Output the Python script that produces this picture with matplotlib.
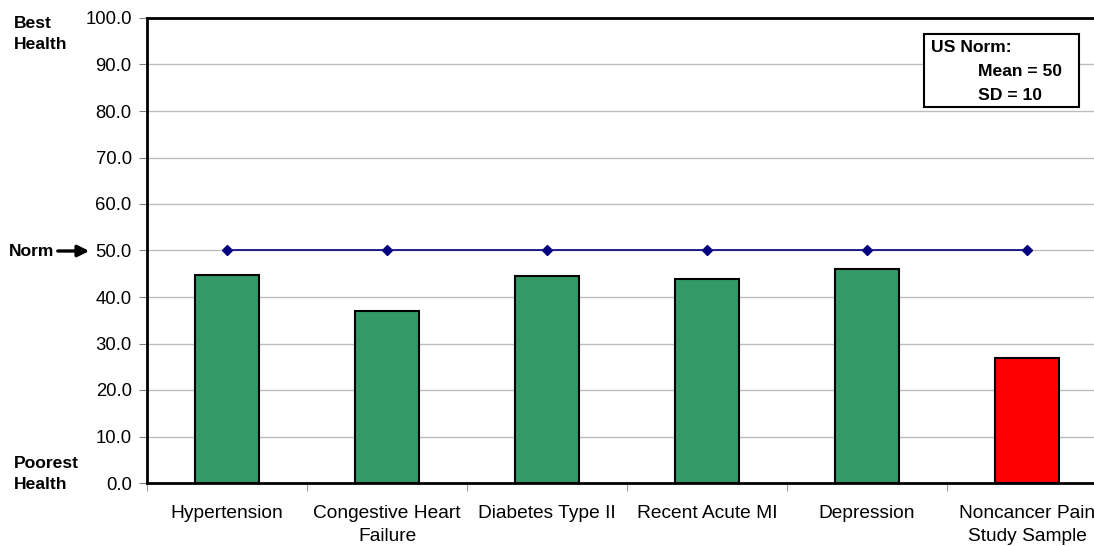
import matplotlib.pyplot as plt
import numpy as np

plt.rcParams["font.family"] = ["Liberation Sans", "DejaVu Sans"]

categories = ["Hypertension", "Congestive Heart\nFailure", "Diabetes Type II",
              "Recent Acute MI", "Depression", "Noncancer Pain\nStudy Sample"]
scores = [44.8, 37.0, 44.6, 43.9, 46.1, 26.9]
bar_colors = ["#339966", "#339966", "#339966", "#339966", "#339966", "#ff0000"]
norm = [50, 50, 50, 50, 50, 50]
y_ticks = [0, 10, 20, 30, 40, 50, 60, 70, 80, 90, 100]

fig = plt.figure(figsize=(10.94, 5.46), dpi=100)
ax = fig.add_axes([147 / 1094, 63 / 546, 960 / 1094, 465 / 546])

x = np.arange(len(categories))
ax.bar(x, scores, width=0.4, color=bar_colors, edgecolor="black", linewidth=1.5, zorder=3)
ax.plot(x, norm, color="#000080", marker="D", markersize=5, linewidth=1.2, zorder=4)

ax.set_xlim(-0.5, len(categories) - 0.5)
ax.set_ylim(0, 100)
ax.set_yticks(y_ticks)
ax.set_yticklabels([f"{v:.1f}" for v in y_ticks], fontsize=13.3)
ax.yaxis.grid(True, color="#bdbdbd", linewidth=1)
ax.set_axisbelow(True)

ax.set_xticks(x)
ax.set_xticklabels(categories, fontsize=13.8, linespacing=1.45)
ax.tick_params(axis="x", length=0, pad=16)
ax.set_xticks(np.arange(len(categories) + 1) - 0.5, minor=True)
ax.tick_params(axis="x", which="minor", length=6, color="#808080", direction="out")
ax.tick_params(axis="y", length=6, color="#808080", pad=5)

for side in ("left", "bottom", "top"):
    ax.spines[side].set_linewidth(2)
ax.spines["right"].set_visible(False)

fig.text(14 / 1094, 1 - 34 / 546, "Best\nHealth", fontsize=12.6, fontweight="bold",
         va="center", ha="left", linespacing=1.55)
fig.text(14 / 1094, 1 - 474 / 546, "Poorest\nHealth", fontsize=12.6, fontweight="bold",
         va="center", ha="left", linespacing=1.55)
fig.text(9 / 1094, 1 - 252 / 546, "Norm", fontsize=12.6, fontweight="bold",
         va="center", ha="left")
ax.annotate("", xy=(92 / 1094, 1 - 251 / 546), xytext=(55 / 1094, 1 - 251 / 546),
            xycoords="figure fraction", textcoords="figure fraction",
            arrowprops=dict(arrowstyle="-|>", color="black", lw=2.4, mutation_scale=17))

fig.text(931 / 1094, 1 - 47 / 546, "US Norm:", fontsize=12.6, fontweight="bold", va="center")
fig.text(978 / 1094, 1 - 72 / 546, "Mean = 50", fontsize=12.6, fontweight="bold", va="center")
fig.text(978 / 1094, 1 - 95 / 546, "SD = 10", fontsize=12.6, fontweight="bold", va="center")
fig.patches.append(plt.Rectangle((924 / 1094, 1 - 107 / 546), 155 / 1094, 73 / 546,
                                 transform=fig.transFigure, facecolor="white",
                                 edgecolor="black", linewidth=1.5, zorder=1))

fig.savefig("out.png", dpi=100)
